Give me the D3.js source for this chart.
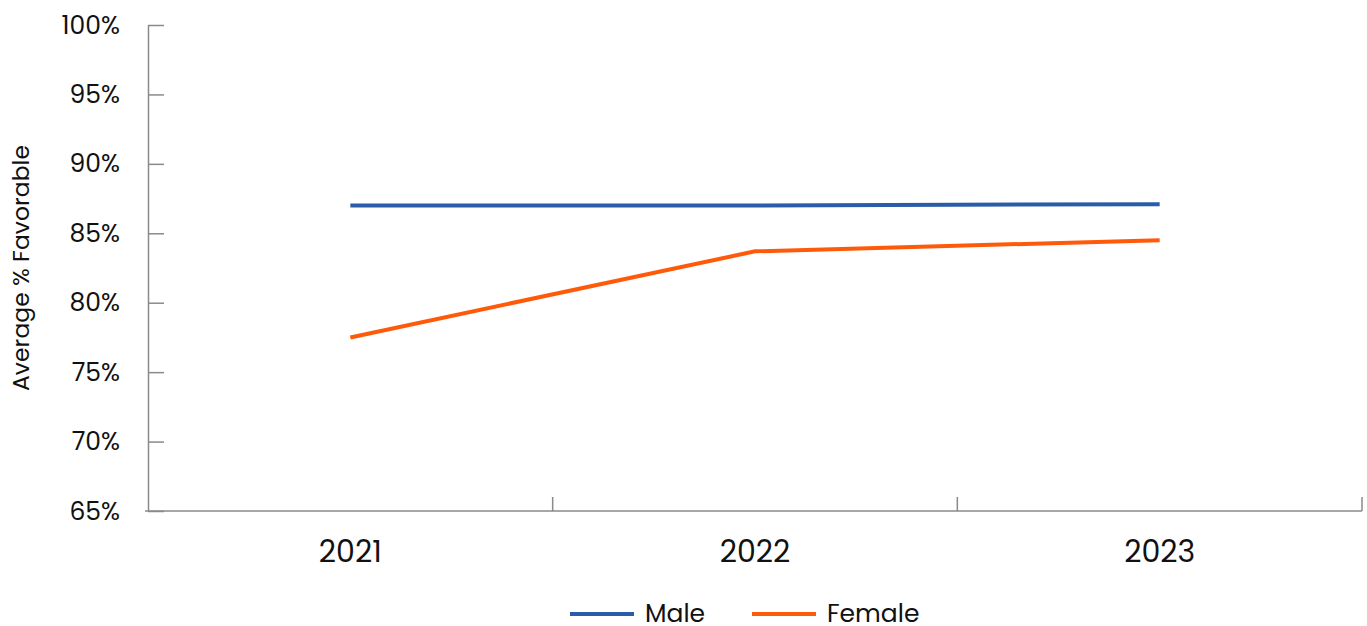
<!DOCTYPE html>
<html>
<head>
<meta charset="utf-8">
<script src="https://cdn.jsdelivr.net/npm/d3@7/dist/d3.min.js"></script>
<style>
  html, body { margin: 0; padding: 0; background: #fff; }
  svg text { font-family: "Poppins", "Inter", "Lato", sans-serif; fill: #111; }
</style>
</head>
<body>
<svg id="chart" width="1367" height="626"></svg>
<script>
// Survey years and average favorable scores by gender
const years = ["2021", "2022", "2023"];
const maleValues = [87.0, 87.0, 87.1];
const femaleValues = [77.5, 83.7, 84.5];
const yTicks = [65, 70, 75, 80, 85, 90, 95, 100];
const seriesNames = ["Male", "Female"];
const seriesColors = ["#2a5ca8", "#ff5a0a"];

const series = [
  { name: seriesNames[0], color: seriesColors[0], values: maleValues },
  { name: seriesNames[1], color: seriesColors[1], values: femaleValues }
];

const svg = d3.select("#chart");
const margin = { left: 148, right: 5, top: 25, bottom: 115 };
const W = 1367, H = 626;
const innerW = W - margin.left - margin.right;
const innerH = H - margin.top - margin.bottom;

const g = svg.append("g").attr("transform", `translate(${margin.left},${margin.top})`);

const x = d3.scaleBand().domain(years).range([0, innerW]);
const y = d3.scaleLinear().domain([65, 100]).range([innerH, 0]);

const axisColor = "#8a8a8a";

// Y axis: ticks point inward into the plot
const yAxis = g.append("g")
  .call(d3.axisLeft(y).tickValues(yTicks).tickFormat(d => d + "%").tickSize(-16).tickSizeOuter(0));
yAxis.select(".domain").attr("stroke", axisColor).attr("stroke-width", 1.5);
yAxis.selectAll(".tick line").attr("stroke", axisColor).attr("stroke-width", 1.5);
yAxis.selectAll(".tick text").attr("font-size", 25).attr("fill", "#111").attr("x", -28);

// X axis: baseline with ticks at category boundaries
const xg = g.append("g").attr("transform", `translate(0,${innerH})`);
xg.append("line")
  .attr("x1", -3).attr("x2", innerW)
  .attr("stroke", axisColor).attr("stroke-width", 1.5);
const bounds = years.map(d => x(d)).concat([innerW]).slice(1);
xg.selectAll("line.bound").data(bounds).join("line")
  .attr("class", "bound")
  .attr("x1", d => d).attr("x2", d => d)
  .attr("y1", -14).attr("y2", 0)
  .attr("stroke", axisColor).attr("stroke-width", 1.5);
xg.selectAll("text.year").data(years).join("text")
  .attr("class", "year")
  .attr("x", d => x(d) + x.bandwidth() / 2)
  .attr("y", 51)
  .attr("text-anchor", "middle")
  .attr("font-size", 30)
  .text(d => d);

// Y axis title
svg.append("text")
  .attr("transform", `translate(29,268) rotate(-90)`)
  .attr("text-anchor", "middle")
  .attr("font-size", 23.5)
  .text("Average % Favorable");

// Lines
const line = d3.line()
  .x((d, i) => x(years[i]) + x.bandwidth() / 2)
  .y(d => y(d));

g.selectAll("path.series").data(series).join("path")
  .attr("class", "series")
  .attr("fill", "none")
  .attr("stroke", d => d.color)
  .attr("stroke-width", 4)
  .attr("d", d => line(d.values));

// Legend
const legend = svg.append("g").attr("transform", "translate(570,614)");
const legendOffsets = [0, 182];
series.forEach((s, i) => {
  const lg = legend.append("g").attr("transform", `translate(${legendOffsets[i]},0)`);
  lg.append("line").attr("x1", 0).attr("x2", 64).attr("y1", 0).attr("y2", 0)
    .attr("stroke", s.color).attr("stroke-width", 4);
  lg.append("text").attr("x", 75).attr("y", 8).attr("font-size", 25).text(s.name);
});
</script>
</body>
</html>
